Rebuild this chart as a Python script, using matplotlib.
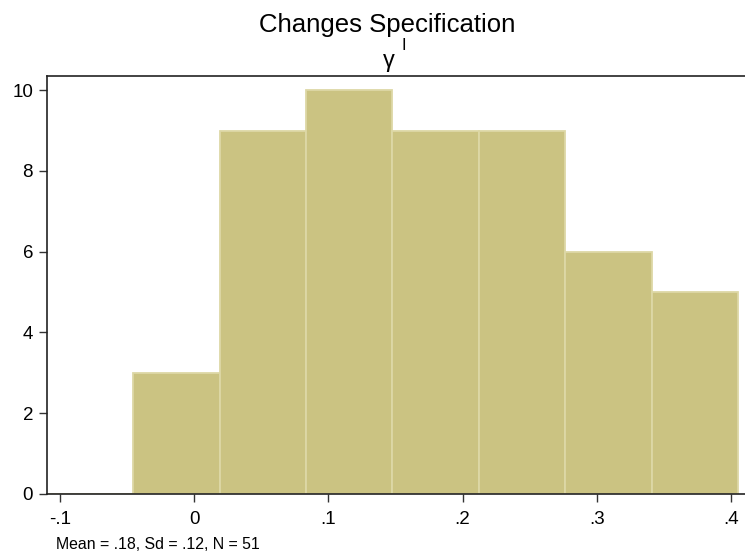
import numpy as np
import matplotlib
matplotlib.use("Agg")
import matplotlib.pyplot as plt

plt.rcParams['font.family'] = ['Liberation Sans', 'DejaVu Sans']

# histogram of gamma^I (counts per bin)
counts = [0, 3, 9, 10, 9, 9, 6, 5]
bin_start = -0.1099
bin_width = 0.0644
xticks = [-0.1, 0, 0.1, 0.2, 0.3, 0.4]
xtick_labels = ["-.1", "0", ".1", ".2", ".3", ".4"]
yticks = [0, 2, 4, 6, 8, 10]

title = "Changes Specification"
note = "Mean = .18, Sd = .12, N = 51"

edges = bin_start + bin_width * np.arange(len(counts))

fig = plt.figure(figsize=(7.45, 5.54), dpi=100)
ax = fig.add_axes([47 / 745, 1 - 494 / 554, 1 - 47 / 745, (494 - 76) / 554])

ax.bar(edges, counts, width=bin_width, align='edge',
       color='#CBC382', edgecolor='#DDD8A6', linewidth=1.3, zorder=2)

ax.set_xlim(bin_start, 0.4106)
ax.set_ylim(0, 10.35)
ax.set_xticks(xticks)
ax.set_xticklabels(xtick_labels)
ax.set_yticks(yticks)

for s in ['left', 'bottom', 'top']:
    ax.spines[s].set_linewidth(1.2)
    ax.spines[s].set_color('#222222')
ax.spines['right'].set_visible(False)
ax.spines['bottom'].set_zorder(3)

ax.tick_params(axis='both', direction='out', length=6, width=1.0,
               color='#333333', labelsize=13.5)
ax.tick_params(axis='x', pad=6)
ax.tick_params(axis='y', pad=4)

fig.text(387 / 745, 1 - 32 / 554, title, ha='center', va='baseline', fontsize=18.5)
fig.text(389 / 745, 1 - 67 / 554, "γ", ha='center', va='baseline', fontsize=17)
fig.text(404 / 745, 1 - 50 / 554, "I", ha='center', va='baseline', fontsize=12)
fig.text(56 / 745, 1 - 549 / 554, note, ha='left', va='baseline', fontsize=11.4)

fig.savefig("out.png", dpi=100, facecolor='white')
